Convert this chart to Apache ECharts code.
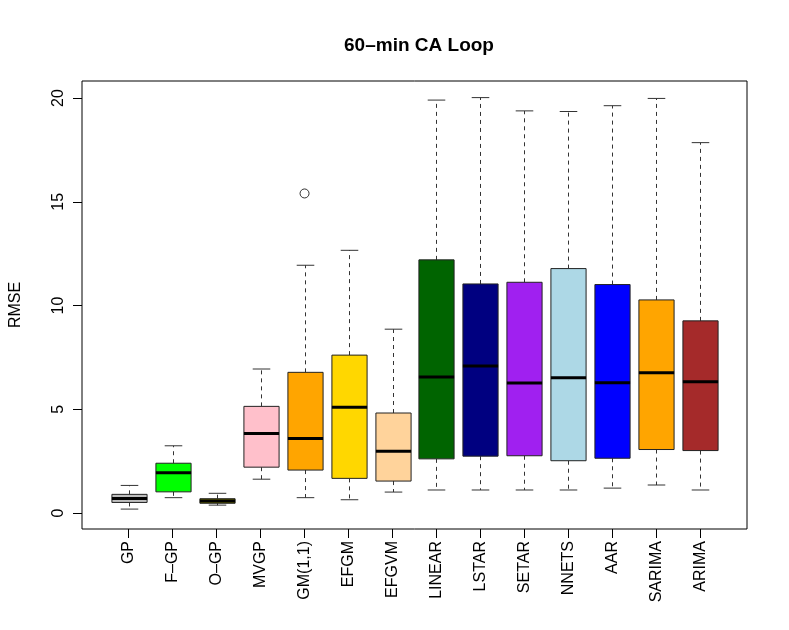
<!DOCTYPE html>
<html>
<head>
<meta charset="utf-8">
<script src="https://cdn.jsdelivr.net/npm/echarts@6/dist/echarts.min.js"></script>
<style>html,body{margin:0;padding:0;background:#fff}#chart{width:789px;height:630px}</style>
</head>
<body>
<div id="chart"></div>
<script>
const categories = ['GP','F\u2013GP','O\u2013GP','MVGP','GM(1,1)','EFGM','EFGVM','LINEAR','LSTAR','SETAR','NNETS','AAR','SARIMA','ARIMA'];
const lowerWhisker = [0.19, 0.74, 0.38, 1.63, 0.74, 0.64, 1.01, 1.11, 1.11, 1.11, 1.11, 1.20, 1.35, 1.11];
const q1Values     = [0.51, 1.02, 0.47, 2.21, 2.07, 1.67, 1.54, 2.61, 2.74, 2.76, 2.52, 2.64, 3.06, 3.01];
const medianValues = [0.70, 1.94, 0.58, 3.83, 3.59, 5.10, 2.98, 6.56, 7.08, 6.27, 6.52, 6.28, 6.76, 6.33];
const q3Values     = [0.90, 2.40, 0.69, 5.14, 6.78, 7.61, 4.82, 12.20, 11.04, 11.12, 11.78, 11.01, 10.27, 9.26];
const upperWhisker = [1.33, 3.24, 0.95, 6.94, 11.94, 12.66, 8.86, 19.90, 20.02, 19.38, 19.35, 19.63, 19.98, 17.85];
const outliers = [[5, 15.40]];
const boxColors = ['#bebebe','#00ff00','#808000','#ffc0cb','#ffa500','#ffd700','#ffd39b','#006400','#000080','#a020f0','#add8e6','#0000ff','#ffa500','#a52a2a'];
const yTicks = [0, 5, 10, 15, 20];

const boxData = categories.map((c, i) => [i + 1, lowerWhisker[i], q1Values[i], medianValues[i], q3Values[i], upperWhisker[i]]);
const xTicks = categories.map((c, i) => i + 1);

const chart = echarts.init(document.getElementById('chart'), null, {renderer: 'canvas'});
const font = 'Liberation Sans, Arial, Helvetica, sans-serif';

chart.setOption({
  animation: false,
  backgroundColor: '#fff',
  title: {
    text: '60\u2013min CA Loop',
    left: 414, top: 31, textAlign: 'center',
    textStyle: {fontFamily: font, fontWeight: 'bold', fontSize: 19, color: '#000'}
  },
  grid: {left: 81, right: 42, top: 81, bottom: 101, show: true, borderColor: '#000', borderWidth: 1, backgroundColor: 'transparent'},
  xAxis: {
    type: 'value', min: -0.06, max: 15.06,
    axisLine: {show: false, onZero: false},
    splitLine: {show: false},
    axisTick: {show: true, customValues: xTicks, length: 9, lineStyle: {color: '#000', width: 1}},
    axisLabel: {
      customValues: xTicks, rotate: 90, margin: 12,
      formatter: v => categories[Math.round(v) - 1] || '',
      fontFamily: font, fontSize: 16, color: '#000'
    }
  },
  yAxis: {
    type: 'value', min: -0.77, max: 20.82,
    name: 'RMSE', nameLocation: 'middle', nameGap: 58, nameRotate: 90,
    nameTextStyle: {fontFamily: font, fontSize: 16, color: '#000'},
    axisLine: {show: false, onZero: false},
    splitLine: {show: false},
    axisTick: {show: true, customValues: yTicks, length: 9, lineStyle: {color: '#000', width: 1}},
    axisLabel: {customValues: yTicks, rotate: 90, margin: 15, fontFamily: font, fontSize: 16, color: '#000'}
  },
  series: [
    {
      type: 'custom',
      data: boxData,
      encode: {x: 0, y: [1, 2, 3, 4, 5]},
      clip: false,
      renderItem: function (params, api) {
        const x = api.value(0);
        const idx = params.dataIndex;
        const halfW = api.size([0.4, 0])[0];
        const capW = api.size([0.2, 0])[0];
        const pLw = api.coord([x, api.value(1)]);
        const pQ1 = api.coord([x, api.value(2)]);
        const pMd = api.coord([x, api.value(3)]);
        const pQ3 = api.coord([x, api.value(4)]);
        const pUw = api.coord([x, api.value(5)]);
        const cx = Math.round(pMd[0]) + 0.5;
        const dash = {stroke: '#333', lineWidth: 1, lineDash: [4, 4]};
        const solid = {stroke: '#333', lineWidth: 1};
        return {
          type: 'group',
          children: [
            {type: 'line', shape: {x1: cx, y1: pQ3[1], x2: cx, y2: pUw[1]}, style: dash},
            {type: 'line', shape: {x1: cx, y1: pQ1[1], x2: cx, y2: pLw[1]}, style: dash},
            {type: 'line', shape: {x1: cx - capW, y1: pUw[1], x2: cx + capW, y2: pUw[1]}, style: solid},
            {type: 'line', shape: {x1: cx - capW, y1: pLw[1], x2: cx + capW, y2: pLw[1]}, style: solid},
            {type: 'rect', shape: {x: cx - halfW, y: pQ3[1], width: 2 * halfW, height: pQ1[1] - pQ3[1]},
              style: {fill: boxColors[idx], stroke: '#222', lineWidth: 1}},
            {type: 'line', shape: {x1: cx - halfW, y1: pMd[1], x2: cx + halfW, y2: pMd[1]}, style: {stroke: '#000', lineWidth: 3}}
          ]
        };
      }
    },
    {
      type: 'scatter',
      data: outliers,
      symbol: 'circle',
      symbolSize: 9,
      itemStyle: {color: 'transparent', borderColor: '#000', borderWidth: 1}
    }
  ]
});
</script>
</body>
</html>
